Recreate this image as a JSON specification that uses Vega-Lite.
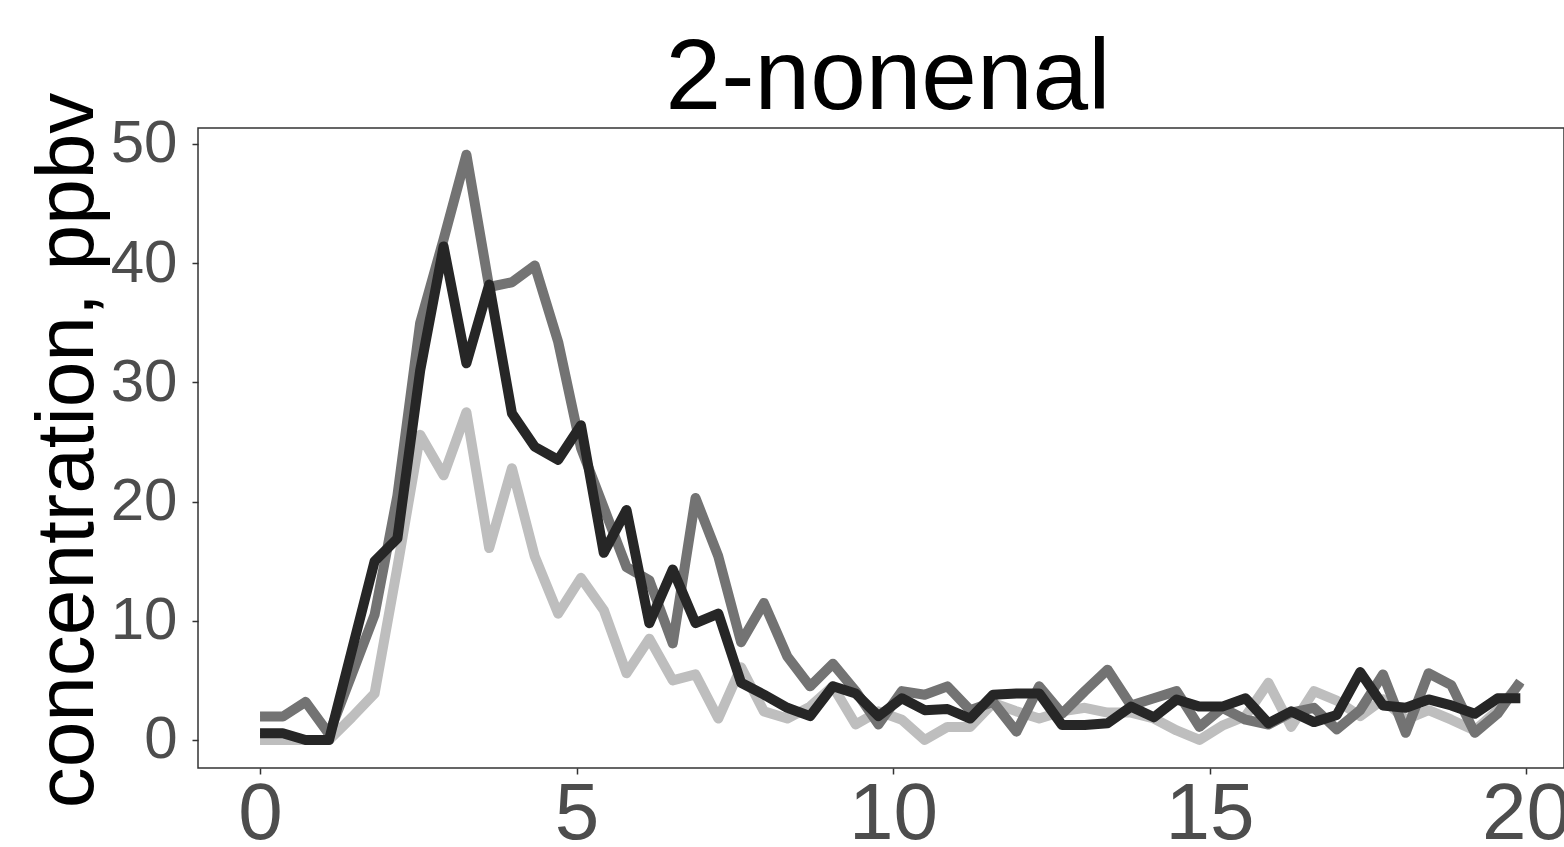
{
  "$schema": "https://vega.github.io/schema/vega-lite/v6.json",
  "autosize": {"type": "none"},
  "padding": {"left": 198, "top": 128, "right": 0, "bottom": 79},
  "width": 1366,
  "height": 640,
  "background": "white",
  "title": {"text": "2-nonenal", "fontSize": 100, "font": "Liberation Sans", "fontWeight": "normal", "color": "black", "anchor": "middle", "frame": "group", "baseline": "alphabetic", "offset": 0, "dy": 117, "dx": 7},
  "config": {"view": {"stroke": "#333333", "strokeWidth": 1.5}},
  "data": {"values": [
    {"t":0,"s":"light","v":0},{"t":0.36,"s":"light","v":0},{"t":0.72,"s":"light","v":0},{"t":1.09,"s":"light","v":0},{"t":1.45,"s":"light","v":1.9},{"t":1.81,"s":"light","v":3.9},{"t":2.17,"s":"light","v":14.5},{"t":2.53,"s":"light","v":25.6},{"t":2.9,"s":"light","v":22.2},{"t":3.26,"s":"light","v":27.5},
    {"t":3.62,"s":"light","v":16.1},{"t":3.98,"s":"light","v":22.8},{"t":4.34,"s":"light","v":15.4},{"t":4.71,"s":"light","v":10.6},{"t":5.07,"s":"light","v":13.6},{"t":5.43,"s":"light","v":10.9},{"t":5.79,"s":"light","v":5.6},{"t":6.15,"s":"light","v":8.5},{"t":6.52,"s":"light","v":5.0},{"t":6.88,"s":"light","v":5.5},
    {"t":7.24,"s":"light","v":1.8},{"t":7.6,"s":"light","v":6.1},{"t":7.96,"s":"light","v":2.4},{"t":8.33,"s":"light","v":1.8},{"t":8.69,"s":"light","v":2.8},{"t":9.05,"s":"light","v":4.5},{"t":9.41,"s":"light","v":1.3},{"t":9.77,"s":"light","v":2.4},{"t":10.14,"s":"light","v":1.7},{"t":10.5,"s":"light","v":0},
    {"t":10.86,"s":"light","v":1.1},{"t":11.22,"s":"light","v":1.1},{"t":11.58,"s":"light","v":3.1},{"t":11.95,"s":"light","v":2.4},{"t":12.31,"s":"light","v":1.8},{"t":12.67,"s":"light","v":2.4},{"t":13.03,"s":"light","v":2.7},{"t":13.39,"s":"light","v":2.3},{"t":13.76,"s":"light","v":2.3},{"t":14.12,"s":"light","v":1.8},
    {"t":14.48,"s":"light","v":0.8},{"t":14.84,"s":"light","v":0},{"t":15.2,"s":"light","v":1.2},{"t":15.57,"s":"light","v":2.0},{"t":15.93,"s":"light","v":4.8},{"t":16.29,"s":"light","v":1.1},{"t":16.65,"s":"light","v":4.1},{"t":17.01,"s":"light","v":3.3},{"t":17.38,"s":"light","v":2.0},{"t":17.74,"s":"light","v":3.4},
    {"t":18.1,"s":"light","v":1.7},{"t":18.46,"s":"light","v":2.5},{"t":18.82,"s":"light","v":1.7},{"t":19.19,"s":"light","v":0.8},{"t":19.55,"s":"light","v":2.5},{"t":19.91,"s":"light","v":4.8},

    {"t":0,"s":"mid","v":1.96},{"t":0.36,"s":"mid","v":1.96},{"t":0.72,"s":"mid","v":3.2},{"t":1.09,"s":"mid","v":0.5},{"t":1.45,"s":"mid","v":5.5},{"t":1.81,"s":"mid","v":10.5},{"t":2.17,"s":"mid","v":20.5},{"t":2.53,"s":"mid","v":35},{"t":2.9,"s":"mid","v":42},{"t":3.26,"s":"mid","v":49.1},
    {"t":3.62,"s":"mid","v":38},{"t":3.98,"s":"mid","v":38.4},{"t":4.34,"s":"mid","v":39.8},{"t":4.71,"s":"mid","v":33.4},{"t":5.07,"s":"mid","v":24.5},{"t":5.43,"s":"mid","v":19.5},{"t":5.79,"s":"mid","v":14.5},{"t":6.15,"s":"mid","v":13.4},{"t":6.52,"s":"mid","v":8.1},{"t":6.88,"s":"mid","v":20.3},
    {"t":7.24,"s":"mid","v":15.4},{"t":7.6,"s":"mid","v":8.2},{"t":7.96,"s":"mid","v":11.5},{"t":8.33,"s":"mid","v":7.0},{"t":8.69,"s":"mid","v":4.5},{"t":9.05,"s":"mid","v":6.4},{"t":9.41,"s":"mid","v":4.1},{"t":9.77,"s":"mid","v":1.3},{"t":10.14,"s":"mid","v":4.1},{"t":10.5,"s":"mid","v":3.8},
    {"t":10.86,"s":"mid","v":4.5},{"t":11.22,"s":"mid","v":2.5},{"t":11.58,"s":"mid","v":3.2},{"t":11.95,"s":"mid","v":0.7},{"t":12.31,"s":"mid","v":4.5},{"t":12.67,"s":"mid","v":2.2},{"t":13.03,"s":"mid","v":4.1},{"t":13.39,"s":"mid","v":5.9},{"t":13.76,"s":"mid","v":2.9},{"t":14.12,"s":"mid","v":3.5},
    {"t":14.48,"s":"mid","v":4.1},{"t":14.84,"s":"mid","v":1.1},{"t":15.2,"s":"mid","v":2.7},{"t":15.57,"s":"mid","v":1.7},{"t":15.93,"s":"mid","v":1.3},{"t":16.29,"s":"mid","v":2.3},{"t":16.65,"s":"mid","v":2.7},{"t":17.01,"s":"mid","v":0.9},{"t":17.38,"s":"mid","v":2.5},{"t":17.74,"s":"mid","v":5.5},
    {"t":18.1,"s":"mid","v":0.6},{"t":18.46,"s":"mid","v":5.6},{"t":18.82,"s":"mid","v":4.6},{"t":19.19,"s":"mid","v":0.6},{"t":19.55,"s":"mid","v":2.2},{"t":19.91,"s":"mid","v":4.9},

    {"t":0,"s":"dark","v":0.56},{"t":0.36,"s":"dark","v":0.56},{"t":0.72,"s":"dark","v":0},{"t":1.09,"s":"dark","v":0},{"t":1.45,"s":"dark","v":7.5},{"t":1.81,"s":"dark","v":15.0},{"t":2.17,"s":"dark","v":16.9},{"t":2.53,"s":"dark","v":31},{"t":2.9,"s":"dark","v":41.4},{"t":3.26,"s":"dark","v":31.6},
    {"t":3.62,"s":"dark","v":38.2},{"t":3.98,"s":"dark","v":27.4},{"t":4.34,"s":"dark","v":24.6},{"t":4.71,"s":"dark","v":23.5},{"t":5.07,"s":"dark","v":26.4},{"t":5.43,"s":"dark","v":15.7},{"t":5.79,"s":"dark","v":19.3},{"t":6.15,"s":"dark","v":9.8},{"t":6.52,"s":"dark","v":14.3},{"t":6.88,"s":"dark","v":9.8},
    {"t":7.24,"s":"dark","v":10.6},{"t":7.6,"s":"dark","v":4.8},{"t":7.96,"s":"dark","v":3.8},{"t":8.33,"s":"dark","v":2.7},{"t":8.69,"s":"dark","v":2.0},{"t":9.05,"s":"dark","v":4.5},{"t":9.41,"s":"dark","v":3.9},{"t":9.77,"s":"dark","v":2.0},{"t":10.14,"s":"dark","v":3.5},{"t":10.5,"s":"dark","v":2.5},
    {"t":10.86,"s":"dark","v":2.6},{"t":11.22,"s":"dark","v":1.8},{"t":11.58,"s":"dark","v":3.8},{"t":11.95,"s":"dark","v":3.9},{"t":12.31,"s":"dark","v":3.9},{"t":12.67,"s":"dark","v":1.26},{"t":13.03,"s":"dark","v":1.26},{"t":13.39,"s":"dark","v":1.4},{"t":13.76,"s":"dark","v":2.8},{"t":14.12,"s":"dark","v":1.9},
    {"t":14.48,"s":"dark","v":3.4},{"t":14.84,"s":"dark","v":2.8},{"t":15.2,"s":"dark","v":2.8},{"t":15.57,"s":"dark","v":3.5},{"t":15.93,"s":"dark","v":1.4},{"t":16.29,"s":"dark","v":2.4},{"t":16.65,"s":"dark","v":1.5},{"t":17.01,"s":"dark","v":2.1},{"t":17.38,"s":"dark","v":5.7},{"t":17.74,"s":"dark","v":2.9},
    {"t":18.1,"s":"dark","v":2.7},{"t":18.46,"s":"dark","v":3.4},{"t":18.82,"s":"dark","v":2.9},{"t":19.19,"s":"dark","v":2.2},{"t":19.55,"s":"dark","v":3.5},{"t":19.91,"s":"dark","v":3.5}
  ]},
  "mark": {"type": "line", "strokeWidth": 10, "strokeJoin": "round", "strokeCap": "butt"},
  "encoding": {
    "x": {"field": "t", "type": "quantitative",
      "scale": {"domain": [-0.98, 20.6], "nice": false, "zero": false},
      "axis": {"values": [0, 5, 10, 15, 20], "title": null, "grid": false, "domain": false, "tickColor": "#333333", "tickWidth": 1.5, "tickSize": 6, "labelFontSize": 80, "labelFont": "Liberation Sans", "labelColor": "#4D4D4D", "labelPadding": 1, "labelFlush": false, "labelOverlap": false}},
    "y": {"field": "v", "type": "quantitative",
      "scale": {"domain": [-2.35, 51.34], "nice": false, "zero": false},
      "axis": {"values": [0, 10, 20, 30, 40, 50], "title": "concentration, ppbv", "titleFontSize": 82, "titleFont": "Liberation Sans", "titleFontWeight": "normal", "titleColor": "black", "titleAngle": -90, "titleX": -106, "titleY": 322, "titleBaseline": "alphabetic", "titleAlign": "center", "grid": false, "domain": false, "tickColor": "#333333", "tickWidth": 1.5, "tickSize": 6, "labelFontSize": 60, "labelFont": "Liberation Sans", "labelColor": "#4D4D4D", "labelPadding": 15}},
    "color": {"field": "s", "type": "nominal", "scale": {"domain": ["light", "mid", "dark"], "range": ["#BEBEBE", "#737373", "#262626"]}, "legend": null}
  }
}
